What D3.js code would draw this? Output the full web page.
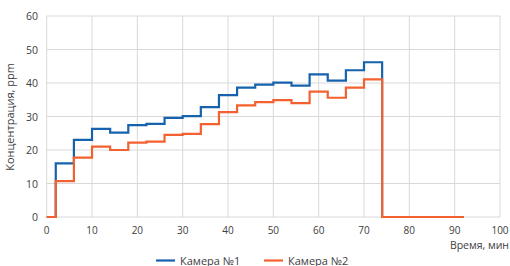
<!DOCTYPE html>
<html><head><meta charset="utf-8">
<script src="https://cdn.jsdelivr.net/npm/d3@7/dist/d3.min.js"></script>
<style>
body{margin:0;background:#fff;}
text{font-family:"Open Sans",sans-serif;fill:#404040;}
</style></head><body>
<svg id="c" width="510" height="266"></svg>
<script>
const times = [0,2,6,10,14,18,22,26,30,34,38,42,46,50,54,58,62,66,70,74,92];
const camera1 = [0,16,23,26.3,25.2,27.4,27.8,29.6,30.1,32.8,36.4,38.6,39.5,40.1,39.2,42.6,40.7,43.8,46.2,0,0];
const camera2 = [0,10.7,17.7,21.0,20.0,22.2,22.5,24.5,24.8,27.7,31.3,33.3,34.3,34.9,34.0,37.4,35.6,38.6,41.1,0,0];
const xTicks = [0,10,20,30,40,50,60,70,80,90,100];
const yTicks = [0,10,20,30,40,50,60];
const seriesNames = ["Камера №1","Камера №2"];
const colors = ["#1762ad","#f2612f"];

const svg = d3.select("#c");
const x = d3.scaleLinear().domain([0,100]).range([46.7,500]);
const y = d3.scaleLinear().domain([0,60]).range([217,16]);

const g = svg.append("g");
g.selectAll(".vg").data(xTicks).enter().append("line")
 .attr("x1",d=>x(d)).attr("x2",d=>x(d)).attr("y1",y(0)).attr("y2",y(60))
 .attr("stroke","#d9d9d9").attr("stroke-width",1);
g.selectAll(".hg").data(yTicks).enter().append("line")
 .attr("x1",x(0)).attr("x2",x(100)).attr("y1",d=>y(d)).attr("y2",d=>y(d))
 .attr("stroke","#d9d9d9").attr("stroke-width",1);

g.selectAll(".yl").data(yTicks).enter().append("text")
 .attr("x",38).attr("y",d=>y(d)+4).attr("text-anchor","end")
 .attr("font-size",10.5).text(d=>d);
g.selectAll(".xl").data(xTicks).enter().append("text")
 .attr("x",d=>x(d)).attr("y",233.5).attr("text-anchor","middle")
 .attr("font-size",10).text(d=>d);

svg.append("text").attr("x",509).attr("y",248.5).attr("text-anchor","end")
 .attr("font-size",10.5).text("Время, мин");
svg.append("text").attr("transform","translate(14,117) rotate(-90)")
 .attr("text-anchor","middle").attr("font-size",11).text("Концентрация, ppm");

const line = d3.line().x(d=>x(d[0])).y(d=>y(d[1])).curve(d3.curveStepAfter);
[camera1,camera2].forEach((s,i)=>{
  svg.append("path").datum(times.map((t,j)=>[t,s[j]]))
   .attr("d",line).attr("fill","none").attr("stroke",colors[i]).attr("stroke-width",2.2);
});

const legX = [156,264];
seriesNames.forEach((n,i)=>{
  svg.append("line").attr("x1",legX[i]).attr("x2",legX[i]+19).attr("y1",260.5).attr("y2",260.5)
   .attr("stroke",colors[i]).attr("stroke-width",2.2);
  svg.append("text").attr("x",legX[i]+24).attr("y",264.5).attr("font-size",11).text(n);
});
</script></body></html>
